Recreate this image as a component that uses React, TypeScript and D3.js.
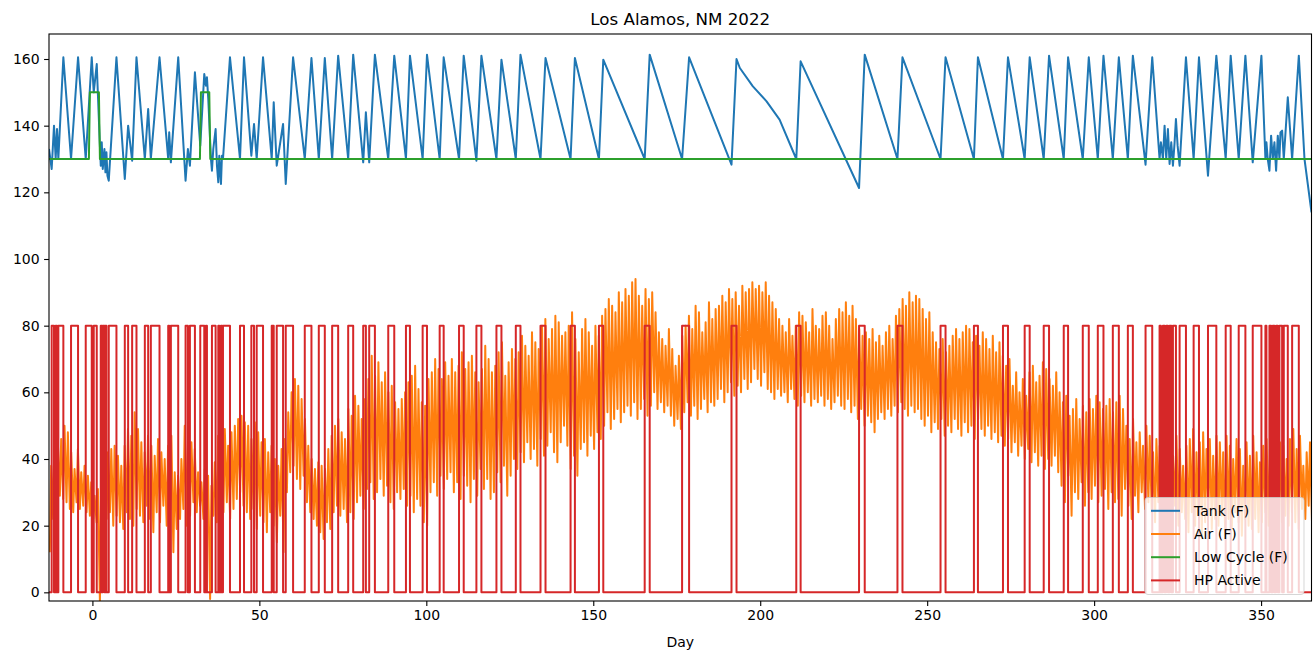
import React, { useRef, useEffect } from "react";
import * as d3 from "d3";

// Tank temperature breakpoints [day, degF]
const tankData: [number, number][] = [
  [-13.0, 133], [-12.2, 127], [-11.5, 140], [-11.0, 130], [-10.6, 139], [-10.2, 130], [-8.7, 160.5],
  [-6.4, 130], [-4.3, 160.5], [-2.0, 130], [-0.2, 160.5], [0.4, 150], [1.3, 158.5], [1.7, 148],
  [2.2, 135], [2.5, 128], [2.8, 135], [3.1, 127], [3.6, 133], [3.9, 126], [4.2, 132], [4.5, 125],
  [4.9, 123.5], [7.2, 160.5], [9.7, 124], [10.7, 140], [11.9, 129.5], [13.2, 160.5], [15.7, 130],
  [16.7, 145], [17.5, 130], [20.1, 160.5], [22.7, 130], [23.0, 138], [23.5, 129], [25.7, 160.5],
  [27.9, 123.5], [28.6, 133], [29.2, 128], [30.7, 156], [32.3, 134], [33.5, 155.5], [34.0, 152],
  [34.3, 154.5], [34.7, 148], [35.5, 130], [35.8, 126.5], [36.2, 133], [36.9, 139], [37.3, 128],
  [37.7, 123], [38.0, 131], [38.5, 122.5], [38.8, 131], [39.1, 130], [41.2, 160.5], [44.2, 130],
  [45.4, 160.5], [47.6, 131], [48.4, 140.5], [49.2, 130], [51.1, 160.5], [53.7, 130], [54.3, 147],
  [55.2, 128], [57.1, 140.5], [57.9, 122.5], [60.1, 160.5], [63.6, 130], [65.6, 160.3], [67.8, 130],
  [69.6, 160.3], [71.8, 130], [73.6, 161], [76.6, 130], [78.1, 161.3], [81.1, 129], [81.9, 144],
  [82.9, 129], [84.6, 161.3], [88.6, 130], [90.4, 161], [93.9, 130], [95.1, 161], [98.9, 130],
  [100.2, 161.3], [104.0, 130], [105.2, 160.5], [109.8, 130], [111.2, 161], [115.0, 129.5],
  [116.5, 161], [121.0, 130], [122.5, 159.8], [126.8, 130], [128.2, 161.3], [134.2, 130],
  [135.7, 160.3], [143.2, 130], [144.5, 160.3], [151.7, 130], [153.0, 159.8], [165.4, 130],
  [166.9, 161.3], [176.6, 130], [178.7, 160.5], [191.4, 128.3], [192.9, 160], [193.9, 157.3],
  [197.8, 151.8], [201.9, 147.3], [205.8, 141.8], [210.8, 130], [212.1, 159.3], [229.6, 121.3],
  [231.3, 161.3], [241.1, 130], [242.6, 160.5], [254.0, 130], [255.5, 160.5], [264.0, 130],
  [265.2, 160.5], [272.7, 130], [274.2, 160.5], [279.2, 130], [280.7, 160.5], [284.9, 130],
  [286.5, 161], [290.9, 130], [292.2, 160.5], [296.6, 130], [298.4, 160.5], [301.1, 130],
  [302.8, 161], [305.6, 130], [307.4, 160.5], [310.1, 130], [311.6, 161], [315.4, 128.3],
  [317.4, 160.5], [319.6, 130], [320.0, 135], [320.6, 130], [321.1, 140], [321.6, 130], [322.1, 139],
  [322.6, 128.5], [323.1, 135], [323.6, 128], [324.1, 135], [324.5, 142], [325.0, 134], [325.6, 128],
  [327.5, 160.5], [329.8, 130], [331.4, 160.5], [334.1, 125], [336.6, 161], [339.4, 130],
  [340.9, 161], [343.3, 130], [345.3, 161], [347.5, 129], [350.1, 161], [351.3, 130], [351.6, 135],
  [352.0, 130], [352.5, 126.5], [353.0, 137], [353.5, 130], [354.0, 135], [354.5, 126.5],
  [355.0, 137], [355.5, 130], [355.8, 138], [356.3, 138.5], [356.8, 130], [358.0, 148.5],
  [359.3, 130], [361.3, 161], [363.0, 130], [365.1, 114],
];

// Low cycle setpoint [day, degF]
const lowCycleData: [number, number][] = [
  [-13, 130], [-1.05, 130], [-0.75, 150], [1.95, 150], [2.25, 130],
  [32.2, 130], [32.5, 150], [35.0, 150], [35.3, 130], [365.1, 130],
];

// Heat pump on periods [startDay, endDay]
const hpOnPeriods: [number, number][] = [
  [-12.2, -11.5], [-11.0, -10.6], [-10.2, -8.7], [-6.4, -4.3], [-2.0, -0.2], [0.4, 1.3], [2.5, 2.8],
  [3.1, 3.6], [3.9, 4.2], [4.9, 7.2], [9.7, 10.7], [11.9, 13.2], [15.7, 16.7], [17.5, 20.1],
  [22.7, 23.0], [23.5, 25.7], [27.9, 28.6], [29.2, 30.7], [32.3, 33.5], [34.0, 34.3], [35.8, 36.9],
  [37.7, 38.0], [38.5, 38.8], [39.1, 41.2], [44.2, 45.4], [47.6, 48.4], [49.2, 51.1], [53.7, 54.3],
  [55.2, 57.1], [57.9, 60.1], [63.6, 65.6], [67.8, 69.6], [71.8, 73.6], [76.6, 78.1], [81.1, 81.9],
  [82.9, 84.6], [88.6, 90.4], [93.9, 95.1], [98.9, 100.2], [104.0, 105.2], [109.8, 111.2],
  [115.0, 116.5], [121.0, 122.5], [126.8, 128.2], [134.2, 135.7], [143.2, 144.5], [151.7, 153.0],
  [165.4, 166.9], [176.6, 178.7], [191.4, 192.9], [210.8, 212.1], [229.6, 231.3], [241.1, 242.6],
  [254.0, 255.5], [264.0, 265.2], [272.7, 274.2], [279.2, 280.7], [284.9, 286.5], [290.9, 292.2],
  [296.6, 298.4], [301.1, 302.8], [305.6, 307.4], [310.1, 311.6], [315.4, 317.4], [319.6, 320.0],
  [320.6, 321.1], [321.6, 322.1], [322.6, 323.1], [323.6, 324.5], [325.6, 327.5], [329.8, 331.4],
  [334.1, 336.6], [339.4, 340.9], [343.3, 345.3], [347.5, 350.1], [351.3, 351.6], [352.5, 353.0],
  [353.5, 354.0], [354.5, 355.0], [355.5, 356.3], [356.8, 358.0], [359.3, 361.3],
];

// Air temperature, daily low / high, starting at day -13
const airStartDay = -13;
const airHigh = [
  38, 49, 45, 46, 50, 48, 42, 37, 43, 36, // -13
  38, 35, 33, 29, 31, 35, 37, 42, 43, 44, // -3
  41, 38, 44, 49, 47, 54, 49, 45, 42, 47, // 7
  44, 41, 46, 42, 40, 44, 47, 36, 35, 40, // 17
  50, 46, 45, 43, 36, 33, 37, 35, 32, 39, // 27
  47, 45, 49, 44, 48, 50, 52, 53, 51, 50, // 37
  46, 51, 48, 45, 46, 42, 44, 40, 38, 43, // 47
  46, 54, 60, 64, 62, 58, 52, 44, 40, 37, // 57
  39, 38, 37, 43, 47, 50, 52, 48, 46, 55, // 67
  53, 59, 56, 52, 58, 64, 71, 65, 69, 63, // 77
  66, 60, 62, 57, 55, 58, 60, 63, 65, 68, // 87
  61, 57, 56, 64, 66, 70, 67, 64, 69, 65, // 97
  70, 66, 68, 72, 67, 69, 71, 66, 63, 67, // 107
  74, 70, 66, 68, 72, 75, 65, 69, 73, 70, // 117
  72, 77, 74, 71, 78, 75, 73, 80, 82, 76, // 127
  79, 83, 81, 77, 78, 80, 84, 76, 72, 79, // 137
  82, 78, 74, 80, 77, 83, 85, 88, 86, 84, // 147
  90, 87, 91, 89, 93, 94, 89, 86, 91, 88, // 157
  90, 84, 78, 76, 74, 79, 73, 68, 71, 77, // 167
  80, 83, 79, 86, 84, 78, 81, 87, 82, 85, // 177
  86, 89, 87, 91, 88, 90, 86, 92, 90, 91, // 187
  93, 91, 92, 90, 93, 89, 87, 85, 82, 80, // 197
  78, 82, 77, 80, 84, 83, 81, 78, 85, 80, // 207
  79, 83, 84, 80, 76, 82, 85, 84, 87, 83, // 217
  86, 82, 79, 77, 78, 76, 79, 75, 77, 74, // 227
  78, 80, 76, 83, 85, 88, 86, 90, 87, 89, // 237
  88, 85, 82, 84, 78, 75, 73, 76, 72, 74, // 247
  77, 79, 76, 78, 80, 79, 75, 77, 74, 78, // 257
  76, 73, 77, 72, 75, 71, 68, 70, 62, 66, // 267
  60, 64, 59, 66, 68, 63, 65, 69, 67, 64, // 277
  62, 66, 60, 57, 59, 53, 55, 58, 52, 56, // 287
  54, 58, 55, 59, 57, 55, 56, 58, 54, 57, // 297
  59, 55, 50, 46, 52, 45, 48, 44, 50, 47, // 307
  42, 46, 44, 48, 39, 45, 41, 47, 43, 38, // 317
  44, 46, 49, 42, 45, 48, 43, 46, 41, 47, // 327
  45, 42, 47, 44, 40, 46, 43, 38, 45, 41, // 337
  47, 42, 39, 44, 46, 43, 48, 41, 45, 44, // 347
  40, 46, 49, 43, 47, 38, 42, 45, 40, // 357
];
const airLow = [
  12, 22, 25, 29, 28, 27, 25, 24, 27, 25, // -13
  26, 24, 23, 22, 21, -3, 25, 22, 24, 20, // -3
  23, 21, 19, 24, 22, 20, 25, 23, 21, 26, // 7
  22, 18, 24, 21, 26, 20, 23, 12, 19, 22, // 17
  25, 20, 23, 27, 24, 26, 22, 25, -2, 23, // 27
  21, 26, 24, 27, 22, 25, 28, 30, 26, 24, // 37
  22, 25, 19, 23, 21, 18, 24, 20, 15, 23, // 47
  12, 30, 36, 38, 34, 31, 35, 27, 24, 22, // 57
  20, 18, 16, 21, 19, 24, 26, 23, 25, 21, // 67
  24, 22, 27, 29, 25, 31, 33, 28, 30, 34, // 77
  29, 32, 27, 25, 30, 28, 31, 26, 29, 24, // 87
  28, 26, 21, 20, 30, 33, 29, 35, 31, 34, // 97
  36, 30, 33, 28, 35, 32, 27, 34, 29, 37, // 107
  31, 34, 28, 30, 36, 33, 38, 29, 35, 40, // 117
  37, 42, 39, 45, 40, 43, 38, 46, 41, 44, // 127
  48, 42, 39, 45, 50, 44, 37, 41, 35, 43, // 137
  45, 41, 47, 43, 48, 46, 50, 54, 49, 52, // 147
  55, 51, 54, 56, 53, 57, 52, 55, 58, 53, // 157
  56, 60, 55, 57, 54, 56, 53, 50, 52, 49, // 167
  54, 57, 53, 56, 52, 55, 58, 54, 57, 56, // 177
  58, 61, 57, 60, 63, 59, 62, 60, 64, 61, // 187
  63, 67, 64, 62, 66, 61, 60, 58, 61, 59, // 197
  60, 57, 61, 58, 56, 59, 57, 60, 56, 58, // 207
  57, 59, 56, 58, 55, 57, 59, 56, 55, 58, // 217
  54, 56, 52, 55, 50, 53, 51, 48, 52, 54, // 227
  52, 55, 53, 56, 54, 57, 55, 53, 56, 54, // 237
  55, 52, 50, 53, 48, 51, 49, 52, 47, 50, // 247
  48, 52, 49, 47, 51, 48, 50, 46, 52, 49, // 257
  47, 50, 46, 48, 45, 47, 44, 46, 42, 45, // 267
  41, 44, 40, 43, 39, 42, 38, 41, 37, 40, // 277
  38, 41, 36, 32, 27, 35, 23, 30, 28, 33, // 287
  26, 30, 28, 32, 27, 29, 31, 25, 30, 27, // 297
  28, 23, 31, 26, 22, 29, 24, 30, 25, 27, // 307
  24, 21, 27, 23, 19, 25, 22, 26, 20, 24, // 317
  22, 18, 24, 20, 23, 17, 21, 25, 19, 22, // 327
  20, 23, 18, 22, 19, 24, 21, 17, 22, 20, // 337
  19, 22, 18, 21, 24, 20, 23, 19, 22, 21, // 347
  23, 20, 24, 21, 19, 25, 22, 26, 21, // 357
];

const xTicks = [0, 50, 100, 150, 200, 250, 300, 350];
const yTicks = [0, 20, 40, 60, 80, 100, 120, 140, 160];
const hpOnValue = 80;

const series = [
  { name: "Tank (F)", color: "#1f77b4" },
  { name: "Air (F)", color: "#ff7f0e" },
  { name: "Low Cycle (F)", color: "#2ca02c" },
  { name: "HP Active", color: "#d62728" },
];

const WIDTH = 1313;
const HEIGHT = 656;
const margin = { top: 34, right: 1.5, bottom: 55, left: 49 };
const FONT = "DejaVu Sans, sans-serif";

const App: React.FC = () => {
  const svgRef = useRef<SVGSVGElement>(null);

  useEffect(() => {
    if (!svgRef.current) return;
    const svg = d3.select(svgRef.current);
    svg.selectAll("*").remove();

    const x = d3
      .scaleLinear()
      .domain([-13, 365.1])
      .range([margin.left, WIDTH - margin.right]);
    const y = d3
      .scaleLinear()
      .domain([-2.6, 167.5])
      .range([HEIGHT - margin.bottom, margin.top]);

    svg
      .append("defs")
      .append("clipPath")
      .attr("id", "plot-clip")
      .append("rect")
      .attr("x", margin.left)
      .attr("y", margin.top)
      .attr("width", WIDTH - margin.left - margin.right)
      .attr("height", HEIGHT - margin.top - margin.bottom);

    const line = d3
      .line<[number, number]>()
      .x((d) => x(d[0]))
      .y((d) => y(d[1]));

    // air: one low and one high per day
    const airPoints: [number, number][] = [];
    airLow.forEach((lo, i) => {
      const day = airStartDay + i;
      airPoints.push([day + 0.25, lo], [day + 0.65, airHigh[i]]);
    });

    // heat pump as a step series
    const hpPoints: [number, number][] = [[-13, 0]];
    hpOnPeriods.forEach(([on, off]) => {
      hpPoints.push([on, 0], [on, hpOnValue], [off, hpOnValue], [off, 0]);
    });
    hpPoints.push([365.1, 0]);

    const plot = svg.append("g").attr("clip-path", "url(#plot-clip)");
    const lines: [number, number][][] = [tankData, airPoints, lowCycleData, hpPoints];
    lines.forEach((pts, i) => {
      plot
        .append("path")
        .datum(pts)
        .attr("fill", "none")
        .attr("stroke", series[i].color)
        .attr("stroke-width", 2)
        .attr("stroke-linejoin", "round")
        .attr("d", line);
    });

    // axes
    const xAxis = svg
      .append("g")
      .attr("transform", `translate(0,${HEIGHT - margin.bottom})`)
      .call(d3.axisBottom(x).tickValues(xTicks).tickSize(4.9).tickPadding(4.5).tickSizeOuter(0));
    const yAxis = svg
      .append("g")
      .attr("transform", `translate(${margin.left},0)`)
      .call(d3.axisLeft(y).tickValues(yTicks).tickSize(4.9).tickPadding(4.5).tickSizeOuter(0));
    [xAxis, yAxis].forEach((g) => {
      g.select(".domain").remove();
      g.selectAll("line").attr("stroke", "#000").attr("stroke-width", 1.1);
      g.selectAll("text")
        .attr("font-family", FONT)
        .attr("font-size", 14)
        .attr("fill", "#000");
    });

    // frame
    svg
      .append("rect")
      .attr("x", margin.left)
      .attr("y", margin.top)
      .attr("width", WIDTH - margin.left - margin.right)
      .attr("height", HEIGHT - margin.top - margin.bottom)
      .attr("fill", "none")
      .attr("stroke", "#000")
      .attr("stroke-width", 1.1);

    const cx = (margin.left + WIDTH - margin.right) / 2;
    svg
      .append("text")
      .attr("x", cx)
      .attr("y", 25)
      .attr("text-anchor", "middle")
      .attr("font-family", FONT)
      .attr("font-size", 16.7)
      .text("Los Alamos, NM 2022");
    svg
      .append("text")
      .attr("x", cx)
      .attr("y", 647)
      .attr("text-anchor", "middle")
      .attr("font-family", FONT)
      .attr("font-size", 14)
      .text("Day");

    // legend
    const legend = svg.append("g");
    legend
      .append("rect")
      .attr("x", 1145)
      .attr("y", 497.5)
      .attr("width", 159)
      .attr("height", 97)
      .attr("rx", 3)
      .attr("fill", "#fff")
      .attr("fill-opacity", 0.8)
      .attr("stroke", "#ccc")
      .attr("stroke-opacity", 0.8);
    series.forEach((s, i) => {
      const ly = 510.8 + i * 23.2;
      legend
        .append("line")
        .attr("x1", 1151)
        .attr("x2", 1180)
        .attr("y1", ly)
        .attr("y2", ly)
        .attr("stroke", s.color)
        .attr("stroke-width", 2);
      legend
        .append("text")
        .attr("x", 1194)
        .attr("y", ly)
        .attr("dy", "0.35em")
        .attr("font-family", FONT)
        .attr("font-size", 14)
        .text(s.name);
    });
  }, []);

  return (
    <svg
      ref={svgRef}
      width={WIDTH}
      height={HEIGHT}
      style={{ position: "absolute", left: 0, top: 0, background: "#fff" }}
    />
  );
};

export default App;
